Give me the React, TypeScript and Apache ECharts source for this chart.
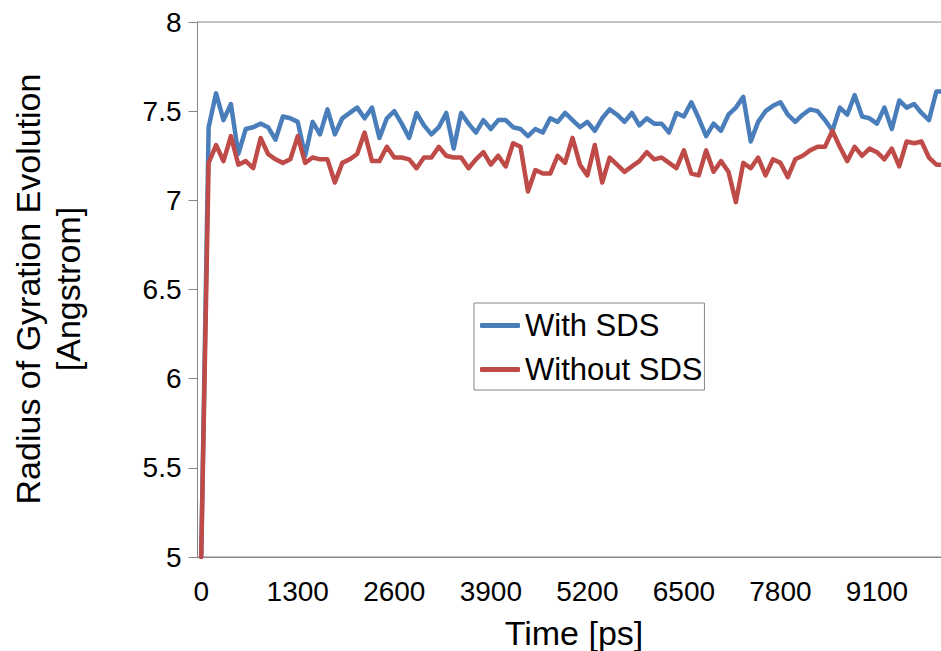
import React, { useEffect, useRef } from "react";
import * as echarts from "echarts";

// Simulation time stamps [ps], one sample every 100 ps
const times: string[] = [
  "0", "100", "200", "300", "400", "500", "600", "700", "800", "900",
  "1000", "1100", "1200", "1300", "1400", "1500", "1600", "1700", "1800", "1900",
  "2000", "2100", "2200", "2300", "2400", "2500", "2600", "2700", "2800", "2900",
  "3000", "3100", "3200", "3300", "3400", "3500", "3600", "3700", "3800", "3900",
  "4000", "4100", "4200", "4300", "4400", "4500", "4600", "4700", "4800", "4900",
  "5000", "5100", "5200", "5300", "5400", "5500", "5600", "5700", "5800", "5900",
  "6000", "6100", "6200", "6300", "6400", "6500", "6600", "6700", "6800", "6900",
  "7000", "7100", "7200", "7300", "7400", "7500", "7600", "7700", "7800", "7900",
  "8000", "8100", "8200", "8300", "8400", "8500", "8600", "8700", "8800", "8900",
  "9000", "9100", "9200", "9300", "9400", "9500", "9600", "9700", "9800", "9900",
  "10000",
];

// Radius of gyration [Angstrom]
const withSDS: number[] = [
  5.0, 7.41, 7.6, 7.45, 7.54, 7.26, 7.4, 7.41, 7.43, 7.41,
  7.34, 7.47, 7.46, 7.44, 7.25, 7.44, 7.37, 7.51, 7.37, 7.46,
  7.49, 7.52, 7.46, 7.52, 7.35, 7.46, 7.5, 7.43, 7.35, 7.49,
  7.42, 7.37, 7.41, 7.49, 7.29, 7.49, 7.43, 7.38, 7.45, 7.4,
  7.45, 7.45, 7.41, 7.4, 7.36, 7.4, 7.38, 7.46, 7.44, 7.49,
  7.45, 7.41, 7.44, 7.39, 7.46, 7.51, 7.48, 7.44, 7.49, 7.42,
  7.46, 7.43, 7.43, 7.38, 7.49, 7.47, 7.55, 7.46, 7.36, 7.43,
  7.39, 7.48, 7.52, 7.58, 7.33, 7.44, 7.5, 7.53, 7.55, 7.48,
  7.44, 7.48, 7.51, 7.5, 7.45, 7.39, 7.52, 7.48, 7.59, 7.47,
  7.46, 7.43, 7.52, 7.4, 7.56, 7.52, 7.54, 7.49, 7.45, 7.61,
  7.61,
];

const withoutSDS: number[] = [
  5.0, 7.21, 7.31, 7.22, 7.36, 7.2, 7.22, 7.18, 7.35, 7.26,
  7.23, 7.21, 7.23, 7.36, 7.21, 7.24, 7.23, 7.23, 7.1, 7.21,
  7.23, 7.26, 7.38, 7.22, 7.22, 7.3, 7.24, 7.24, 7.23, 7.18,
  7.24, 7.24, 7.3, 7.25, 7.24, 7.24, 7.18, 7.23, 7.27, 7.2,
  7.25, 7.19, 7.32, 7.3, 7.05, 7.17, 7.15, 7.15, 7.25, 7.21,
  7.35, 7.2, 7.14, 7.31, 7.1, 7.24, 7.2, 7.16, 7.19, 7.22,
  7.27, 7.23, 7.24, 7.21, 7.18, 7.28, 7.15, 7.14, 7.28, 7.16,
  7.22, 7.16, 6.99, 7.21, 7.18, 7.24, 7.14, 7.23, 7.21, 7.13,
  7.23, 7.25, 7.28, 7.3, 7.3, 7.39, 7.3, 7.22, 7.3, 7.25,
  7.29, 7.27, 7.23, 7.29, 7.19, 7.33, 7.32, 7.33, 7.24, 7.2,
  7.2,
];

const FONT = "'Liberation Sans', Arial, Helvetica, sans-serif";
const AXIS_GRAY = "#868686";

export default function App() {
  const ref = useRef<HTMLDivElement>(null);

  useEffect(() => {
    if (!ref.current) return;
    const chart = echarts.init(ref.current, null, { renderer: "svg" });
    chart.setOption({
      animation: false,
      backgroundColor: "#ffffff",
      textStyle: { fontFamily: FONT },
      grid: {
        left: 197.5,
        top: 22,
        right: 2.5,
        bottom: 94,
        show: true,
        borderColor: AXIS_GRAY,
        borderWidth: 1,
        containLabel: false,
      },
      legend: {
        orient: "vertical",
        left: 474,
        top: 303,
        padding: [7, 2, 5, 6],
        icon: "roundRect",
        itemWidth: 40,
        itemHeight: 5,
        itemGap: 13,
        borderColor: AXIS_GRAY,
        borderWidth: 1,
        backgroundColor: "#ffffff",
        textStyle: { fontFamily: FONT, fontSize: 31, color: "#000" },
        data: ["With SDS", "Without SDS"],
      },
      xAxis: {
        type: "category",
        data: times,
        boundaryGap: true,
        axisLine: { lineStyle: { color: AXIS_GRAY, width: 1 } },
        axisTick: { show: false },
        axisLabel: {
          interval: 12,
          margin: 20,
          fontSize: 28,
          fontFamily: FONT,
          color: "#000",
        },
        splitLine: { show: false },
      },
      yAxis: {
        type: "value",
        min: 5,
        max: 8,
        interval: 0.5,
        axisLine: { show: true, lineStyle: { color: AXIS_GRAY, width: 1 } },
        axisTick: { show: true, length: 9, inside: false, lineStyle: { color: AXIS_GRAY } },
        axisLabel: {
          margin: 16,
          fontSize: 28,
          fontFamily: FONT,
          color: "#000",
        },
        splitLine: { show: false },
      },
      series: [
        {
          name: "With SDS",
          type: "line",
          data: withSDS,
          symbol: "none",
          clip: true,
          color: "#4A7EBB",
          lineStyle: { color: "#4A7EBB", width: 4.5, cap: "round", join: "round" },
        },
        {
          name: "Without SDS",
          type: "line",
          data: withoutSDS,
          symbol: "none",
          clip: true,
          color: "#BE4B48",
          lineStyle: { color: "#BE4B48", width: 4.5, cap: "round", join: "round" },
        },
      ],
      graphic: [
        {
          type: "text",
          x: 574,
          y: 633,
          style: {
            text: "Time [ps]",
            font: `34px ${FONT}`,
            fill: "#000",
            textAlign: "center",
            textVerticalAlign: "middle",
          },
        },
        {
          type: "text",
          x: 48,
          y: 289,
          rotation: Math.PI / 2,
          style: {
            text: "Radius of Gyration Evolution\n[Angstrom]",
            font: `34px ${FONT}`,
            lineHeight: 40,
            fill: "#000",
            textAlign: "center",
            textVerticalAlign: "middle",
          },
        },
      ],
    });
    return () => chart.dispose();
  }, []);

  return (
    <div
      style={{
        position: "absolute",
        left: 0,
        top: 0,
        width: 941,
        height: 651,
        overflow: "hidden",
        background: "#fff",
      }}
    >
      <div ref={ref} style={{ width: 950, height: 651 }} />
    </div>
  );
}
